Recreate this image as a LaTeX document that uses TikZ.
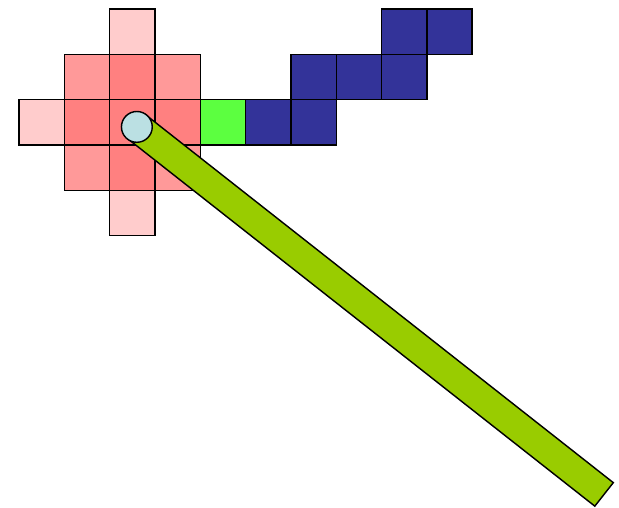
\documentclass[tikz,border=0pt]{standalone}
\usepackage{xcolor}
\usepackage{tikz}
\usetikzlibrary{positioning, calc}
\definecolor{pale}{HTML}{FFCCCC}
\definecolor{mid}{HTML}{FF9999}
\definecolor{core}{HTML}{FF8080}
\definecolor{lime}{HTML}{5CFF40}
\definecolor{navy}{HTML}{333399}
\definecolor{rod}{HTML}{99CC00}
\definecolor{knob}{HTML}{BBE0E3}

\begin{document}
\begin{tikzpicture}[
    cell/.style={rectangle, draw=black, fill=#1, minimum size=1cm,
      inner sep=0pt, outer sep=0pt, line width=0.9pt},
    bar/.style={draw=black, fill=rod, line width=0.9pt, line join=miter},
    tipk/.style={circle, draw=black, fill=knob, minimum size=0.68cm,
      inner sep=0pt, line width=0.9pt}
  ]
  \useasboundingbox (-0.42,0.2) rectangle (13.24,-10.99);

  % brush footprint
  \foreach \c/\r in {2/0, 0/2, 2/4}
    \node[cell=pale] (p\c\r) at (\c+0.5,-\r-0.5) {};
  \foreach \c/\r in {1/1, 3/1, 1/3, 3/3}
    \node[cell=mid] (m\c\r) at (\c+0.5,-\r-0.5) {};
  \foreach \c/\r in {2/1, 1/2, 2/2, 3/2, 2/3}
    \node[cell=core] (k\c\r) at (\c+0.5,-\r-0.5) {};

  % stroke cells
  \node[cell=lime] (cur) at (4.5,-2.5) {};
  \foreach \c/\r in {5/2, 6/2, 6/1, 7/1, 8/1, 8/0, 9/0}
    \node[cell=navy] (s\c\r) at (\c+0.5,-\r-0.5) {};

  % pen
  \coordinate (pivot) at (2.6,-2.6);
  \coordinate (tail) at (12.91,-10.71);
  \draw[bar] ($(pivot)!0.33cm!90:(tail)$) -- ($(tail)!0.33cm!-90:(pivot)$)
    -- ($(tail)!0.33cm!90:(pivot)$) -- ($(pivot)!0.33cm!-90:(tail)$) -- cycle;
  \node[tipk] (tip) at (pivot) {};
\end{tikzpicture}
\end{document}
